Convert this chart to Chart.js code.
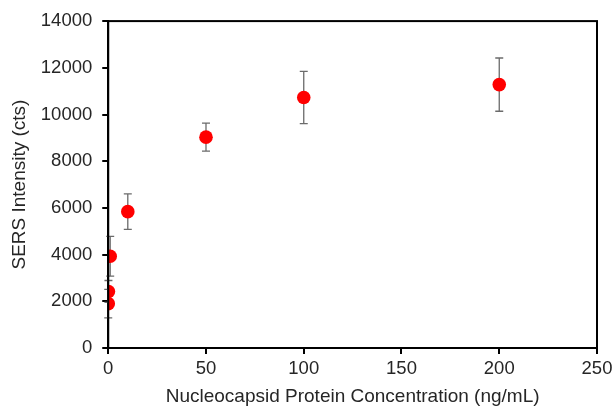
<!DOCTYPE html>
<html>
<head>
<meta charset="utf-8">
<script src="https://cdn.jsdelivr.net/npm/chart.js@4"></script>
<style>
  body { margin: 0; background: #fff; }
  #wrap { width: 613px; height: 408px; }
</style>
</head>
<body>
<div id="wrap"><canvas id="chart"></canvas></div>
<script>
// concentration (ng/mL) vs SERS intensity
const concentration = [0, 0.1, 1, 10, 50, 100, 200];
const intensity = [1900, 2420, 3930, 5840, 9030, 10730, 11280];
const errorBar = [610, 470, 850, 760, 600, 1120, 1140];

const xTicks = [0, 50, 100, 150, 200, 250];
const yTicks = [0, 2000, 4000, 6000, 8000, 10000, 12000, 14000];

const points = concentration.map((c, i) => ({ x: c, y: intensity[i] }));

// draw the error bars and the box frame with the chart's own scales
const errorBars = {
  id: "errorBars",
  beforeDatasetsDraw(chart) {
    const ctx = chart.ctx;
    const xs = chart.scales.x, ys = chart.scales.y;
    ctx.save();
    ctx.strokeStyle = "#6b6b6b";
    ctx.lineWidth = 1.3;
    for (let i = 0; i < concentration.length; i++) {
      const px = xs.getPixelForValue(concentration[i]);
      const top = ys.getPixelForValue(intensity[i] + errorBar[i]);
      const bot = ys.getPixelForValue(intensity[i] - errorBar[i]);
      ctx.beginPath();
      ctx.moveTo(px, top); ctx.lineTo(px, bot);
      ctx.moveTo(px - 4, top); ctx.lineTo(px + 4, top);
      ctx.moveTo(px - 4, bot); ctx.lineTo(px + 4, bot);
      ctx.stroke();
    }
    ctx.restore();
  },
  afterDraw(chart) {
    const a = chart.chartArea;
    const ctx = chart.ctx;
    ctx.save();
    ctx.strokeStyle = "#000";
    ctx.lineWidth = 2;
    ctx.strokeRect(a.left, a.top, a.right - a.left, a.bottom - a.top);
    ctx.restore();
  }
};

Chart.defaults.font.family = "'Liberation Sans', Arial, sans-serif";
Chart.defaults.font.size = 18.5;
Chart.defaults.color = "#262626";

new Chart(document.querySelector("#chart"), {
  type: "scatter",
  data: {
    datasets: [{
      data: points,
      backgroundColor: "#ff0000",
      borderColor: "#ff0000",
      borderWidth: 0,
      pointRadius: 6.8,
      pointHoverRadius: 6.8
    }]
  },
  options: {
    responsive: true,
    maintainAspectRatio: false,
    animation: false,
    layout: { padding: { top: 11, right: 0, left: 8, bottom: 0 } },
    plugins: { legend: { display: false }, tooltip: { enabled: false } },
    scales: {
      x: {
        type: "linear",
        min: 0, max: 250,
        afterBuildTicks: (axis) => { axis.ticks = xTicks.map(v => ({ value: v })); },
        afterFit: (axis) => { axis.paddingRight = 16; },
        grid: { display: true, drawOnChartArea: false, tickLength: 6, color: "#000", lineWidth: 2 },
        border: { display: true, color: "#000", width: 2 },
        ticks: { padding: 4, color: "#262626", callback: (v) => String(v) },
        title: { display: true, text: "Nucleocapsid Protein Concentration (ng/mL)", color: "#262626", font: { size: 19 }, padding: { top: 1, bottom: 0 } }
      },
      y: {
        type: "linear",
        min: 0, max: 14000,
        afterBuildTicks: (axis) => { axis.ticks = yTicks.map(v => ({ value: v })); },
        grid: { display: true, drawOnChartArea: false, tickLength: 6, color: "#000", lineWidth: 2 },
        border: { display: true, color: "#000", width: 2 },
        ticks: { padding: 10, color: "#262626", callback: (v) => String(v) },
        title: { display: true, text: "SERS Intensity (cts)", color: "#262626", font: { size: 19 }, padding: { top: 0, bottom: 0 } }
      }
    }
  },
  plugins: [errorBars]
});
</script>
</body>
</html>
